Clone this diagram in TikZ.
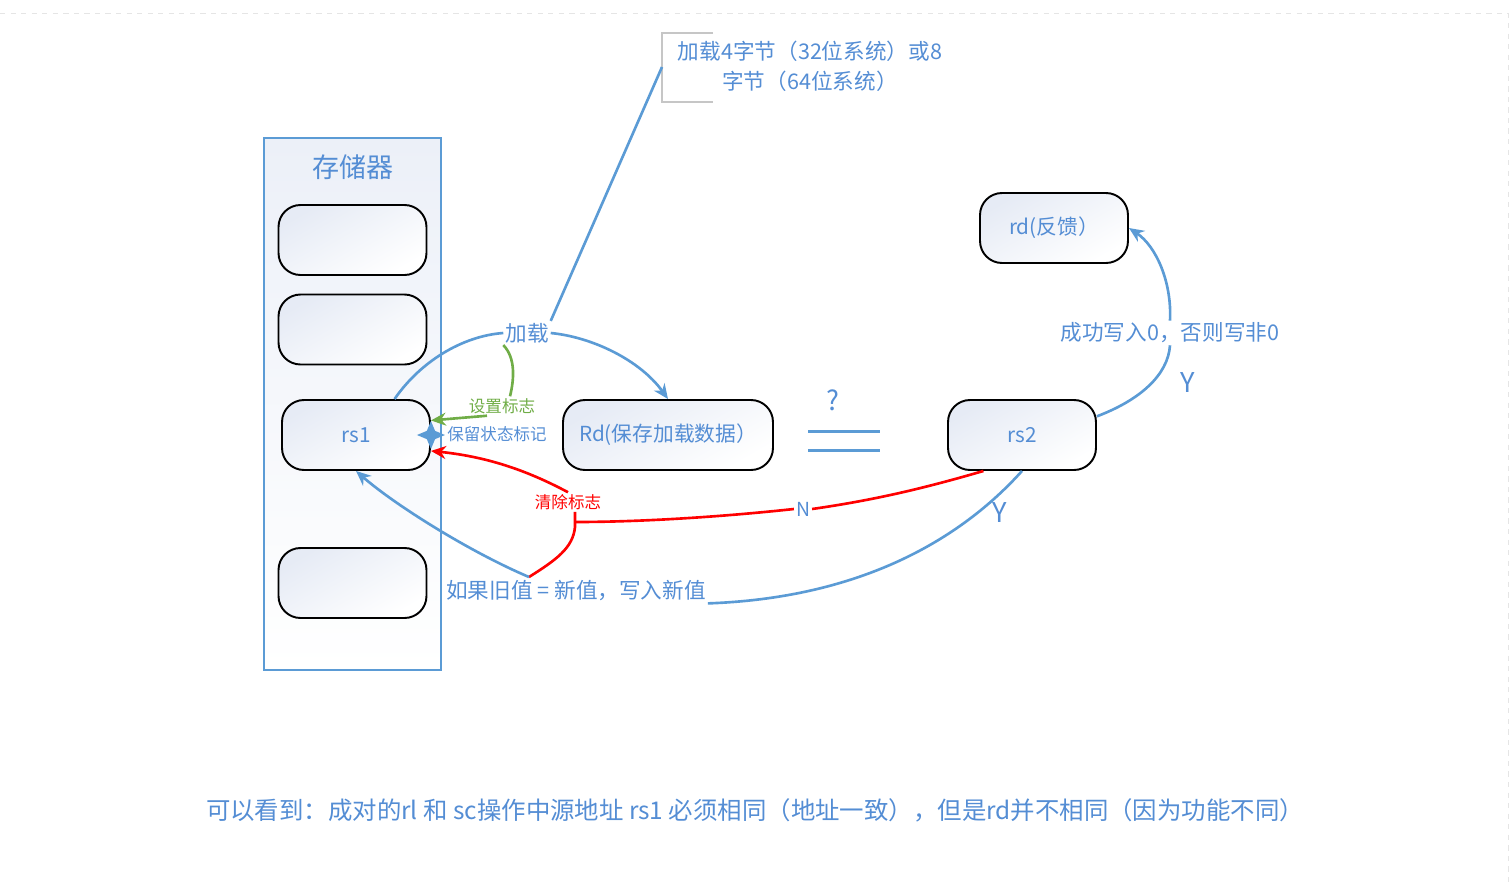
\documentclass[tikz,border=0pt]{standalone}
\usepackage{fontspec}
\setmainfont{Noto Sans CJK SC}
\usepackage{xcolor}
\usetikzlibrary{positioning,arrows.meta,shapes.geometric,calc}
\definecolor{lineblue}{RGB}{91,155,213}
\definecolor{textblue}{RGB}{84,141,212}
\definecolor{flaggreen}{RGB}{112,173,71}
\definecolor{cellfill}{RGB}{230,235,245}
\definecolor{memfill}{RGB}{236,240,248}
\newcommand{\pxfont}[1]{\fontsize{#1}{#1}\selectfont}

\begin{document}
\begin{tikzpicture}[
    x=0.02cm, y=-0.02cm,
    every node/.style={text=textblue, inner sep=1pt},
    cell/.style={draw=black, line width=1.1pt, rounded corners=0.44cm,
      top color=cellfill, bottom color=white, shading angle=30,
      minimum width=2.96cm, minimum height=1.4cm, font=\pxfont{11.8}},
    lbl/.style={font=\pxfont{12.3}},
    tag/.style={font=\pxfont{9.4}},
    bigmark/.style={font=\pxfont{15.5}},
    blueline/.style={draw=lineblue, line width=1.5pt},
    redline/.style={draw=red, line width=1.5pt},
    greenline/.style={draw=flaggreen, line width=1.5pt},
    tip/.style={-{Stealth[length=3mm,width=2.6mm]}},
  ]
    % Canvas: 1512 x 883 px, y grows downward
    \useasboundingbox (0,0) rectangle (1512,883);
    \draw[gray!20, dashed] (0,13) -- (1508,13) -- (1508,883);

    % --- memory block
    \node[draw=lineblue, line width=1.1pt, top color=memfill, bottom color=white,
      minimum width=3.54cm, minimum height=10.64cm] (mem) at (352.5,404) {};
    \node[font=\pxfont{15.4}] (memtitle) at (353,167) {存储器};
    \node[cell] (cellA) at (352.5,240) {};
    \node[cell] (cellB) at (352.5,329.5) {};
    \node[cell] (rs1) at (356,435) {rs1};
    \node[cell] (cellD) at (352.5,583) {};

    % --- registers
    \node[cell, minimum width=4.2cm] (rdata) at (668,435) {Rd(保存加载数据）};
    \node[cell] (rs2) at (1022,435) {rs2};
    \node[cell] (rd) at (1054,228) {rd(反馈）};

    % --- "?" and equal sign
    \node[bigmark] (ask) at (833,400) {?};
    \draw[lineblue, line width=1.7pt] (808,431) -- (880,431);
    \draw[lineblue, line width=1.7pt] (808,450) -- (880,450);

    % --- labels
    \node[lbl] (load) at (527,333) {加载};
    \node[tag, text=flaggreen] (setflag) at (502,406) {设置标志};
    \node[tag] (keeptxt) at (497,434) {保留状态标记};
    \node[tag, text=red] (clear) at (568,502) {清除标志};
    \node[font=\pxfont{11}] (nlab) at (803,509) {N};
    \node[lbl] (cond) at (576,591) {如果旧值 = 新值，写入新值};
    \node[bigmark] (ylow) at (1000,513) {Y};
    \node[bigmark] (yhigh) at (1188,383) {Y};
    \node[lbl] (wr) at (1170,333) {成功写入0，否则写非0};

    % --- note on load width
    \node[align=center, font=\fontsize{12.3}{17}\selectfont] (note) at (810,66)
      {加载4字节（32位系统）或8\\字节（64位系统）};
    \draw[gray!45, line width=0.6pt] (713,33) -- (662,33) -- (662,102) -- (713,102);
    \coordinate (notetip) at (662,67);
    \draw[blueline] (notetip) -- (load.north east);

    % --- load arc rs1 -> Rd
    \draw[blueline] (rs1.43) .. controls (420,362) and (462,336) .. (load.west);
    \draw[blueline, tip] (load.east) .. controls (592,337) and (640,360) .. (rdata.north);

    % --- set flag (green)
    \draw[greenline] (load.south west) .. controls (516,358) and (514,380) .. ($(setflag.north)+(8,0)$);
    \draw[greenline, tip] ($(setflag.south)+(-15,0)$) -- (rs1.11);

    % --- reservation mark
    \node[star, star points=4, star point ratio=2.4, fill=lineblue, inner sep=0pt,
      minimum size=0.56cm] (keep) at (rs1.east) {};

    % --- N branch (red)
    \coordinate (fork) at (575,522);
    \coordinate (meet) at (529,577);
    \draw[redline] (rs2.223) .. controls (925,488) and (875,500) .. (nlab.east);
    \draw[redline] (nlab.west) .. controls (720,517) and (640,522) .. (fork);
    \draw[redline, tip] (clear.north) .. controls (530,472) and (490,457) .. (rs1.-12);
    \draw[redline] (fork |- clear.south) -- (fork) -- ++(0,5)
      .. controls (573,548) and (556,560) .. (meet);

    % --- Y branch (blue)
    \draw[blueline] (rs2.south) .. controls (960,540) and (860,598) .. (cond.south east);
    \draw[blueline, tip] (meet) .. controls (470,552) and (395,505) .. (rs1.south);
    \draw[blueline] (rs2.14) .. controls (1140,400) and (1168,375) .. (wr.south);
    \draw[blueline, tip] (wr.north) .. controls (1172,282) and (1156,246) .. (rd.east);

    % --- summary line
    \node[font=\pxfont{13.9}] (summary) at (755,810)
      {可以看到：成对的rl 和 sc操作中源地址 rs1 必须相同（地址一致），但是rd并不相同（因为功能不同）};
  \end{tikzpicture}
\end{document}
